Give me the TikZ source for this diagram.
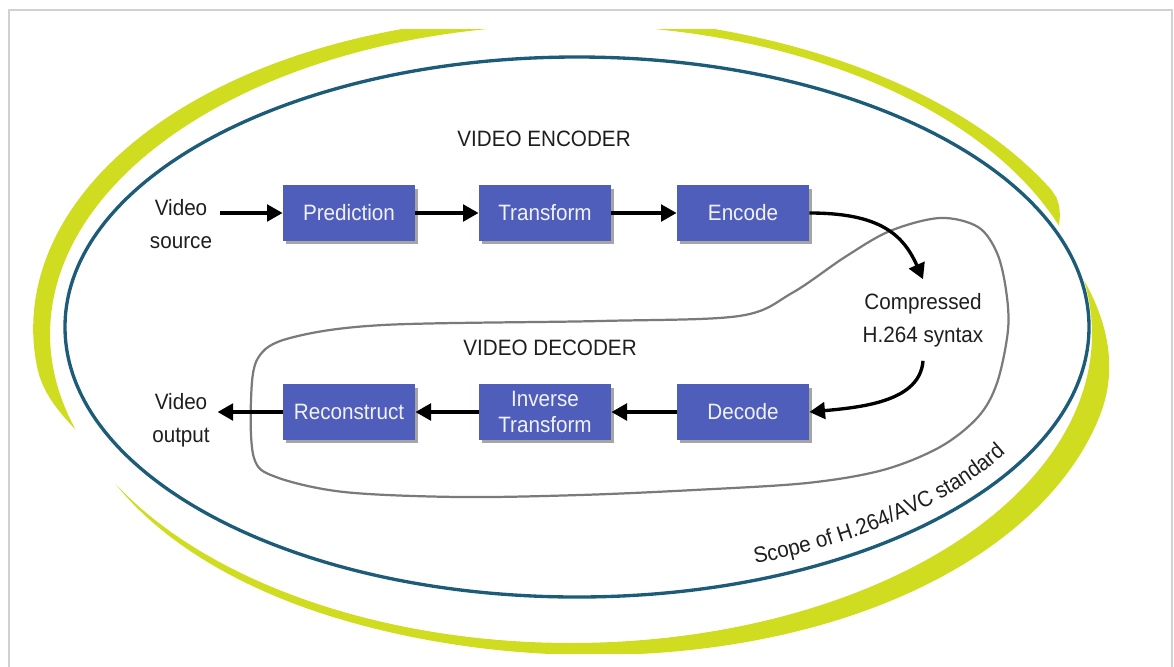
\documentclass[tikz,border=0pt]{standalone}
\usepackage{fontspec}
\setmainfont{Liberation Sans}[FakeStretch=0.93]
\usetikzlibrary{arrows.meta,shadows,decorations.text}
\definecolor{vcblue}{HTML}{4F5EBA}
\definecolor{vcteal}{HTML}{1D5C78}
\definecolor{vclime}{HTML}{CFDC1F}
\definecolor{vcgray}{HTML}{7A7A7A}
\definecolor{vcdark}{HTML}{1E1E1E}
\tikzset{
  box/.style={fill=vcblue,text=white!92!vcblue,minimum width=59.4pt,minimum height=25pt,inner sep=1.5pt,align=center,font=\fontsize{10}{11.3}\selectfont,drop shadow={shadow xshift=1.3pt,shadow yshift=-1.6pt,fill=black!70,opacity=.5}},
  lbl/.style={text=vcdark,align=center,font=\fontsize{10}{15}\selectfont},
  ttl/.style={text=vcdark,font=\fontsize{10}{12}\selectfont},
  arr/.style={-{Triangle[length=7pt,width=7.5pt]},draw=black,line width=1.5pt},
  declare function={yw(\t,\ta,\tb,\la,\lb)=sin(90*min(1,(\t-\ta)/\la,(\tb-\t)/\lb))*(15+7*cos(2*(\t+25))+3*cos(\t+25));}
}
\begin{document}
\begin{tikzpicture}[x=0.45pt,y=-0.45pt]
  \useasboundingbox (0,0) rectangle (1174,666);
  \draw[black!18,line width=0.8pt] (9,672) -- (9,10) -- (1172,10) -- (1172,672);
  % yellow swoosh round the scope
  \begin{scope}
    \clip (0,29) rectangle (1174,653);
    \fill[vclime] plot[domain=20.5:198,samples=120] ({571+521*cos(\x)},{334-309*sin(\x)})
      -- plot[domain=198:20.5,samples=120] ({571+(521+yw(\x,20.5,198,6,12))*cos(\x)},{334-(309+yw(\x,20.5,198,6,12))*sin(\x)}) -- cycle;
    \fill[vclime] plot[domain=209:370,samples=120] ({571+521*cos(\x)},{334-309*sin(\x)})
      -- plot[domain=370:209,samples=120] ({571+(521+yw(\x,209,370,35,24))*cos(\x)},{334-(309+yw(\x,209,370,35,24))*sin(\x)}) -- cycle;
  \end{scope}
  \draw[vcteal,line width=1.5pt] (577,327) ellipse [x radius=512,y radius=270];
  % decoder loop
  \draw[vcgray,line width=1pt] plot[smooth cycle,tension=0.55] coordinates {
    (251,400) (258,358) (290,338) (383,325) (600,321) (739,316) (792,293) (845,257)
    (890,231) (940,218) (978,227) (997,253) (1006,290) (1008,330) (997,383) (978,417)
    (940,447) (883,470) (807,483) (694,490) (580,495) (459,497) (344,492) (276,477) (254,458)};
  \path[decorate,decoration={text along path,text align=center,text color=vcdark,
    text={|\fontsize{10}{10}\selectfont|Scope of H.264/AVC standard}}]
    plot[domain=-74:-22,samples=40] ({577+494*cos(\x)},{327-254*sin(\x)});

  \node[ttl] (enc) at (544,139) {VIDEO ENCODER};
  \node[ttl] (dec) at (550,348) {VIDEO DECODER};
  \node[lbl] (src) at (181,224) {Video\\source};
  \node[lbl] (out) at (181,420) {Video\\output};
  \node[lbl,inner sep=6pt] (cmp) at (923,320) {Compressed\\H.264 syntax};

  \node[box] (pred) at (349,213) {Prediction};
  \node[box] (trans) at (545,213) {Transform};
  \node[box] (encd) at (743,213) {Encode};
  \node[box] (rec) at (349,412) {Reconstruct};
  \node[box] (inv) at (545,412) {Inverse\\Transform};
  \node[box] (decd) at (743,412) {Decode};

  \draw[arr] (src.east |- pred.west) -- (pred.west);
  \draw[arr] (pred) -- (trans);
  \draw[arr] (trans) -- (encd);
  \draw[arr] (encd.east) .. controls +(70,0) and +(-20,-45) .. (cmp.north);
  \draw[arr] (cmp.south) .. controls +(-3,40) and +(55,-5) .. (decd.east);
  \draw[arr] (decd) -- (inv);
  \draw[arr] (inv) -- (rec);
  \draw[arr] (rec.west) -- (out.east |- rec.west);
\end{tikzpicture}
\end{document}
